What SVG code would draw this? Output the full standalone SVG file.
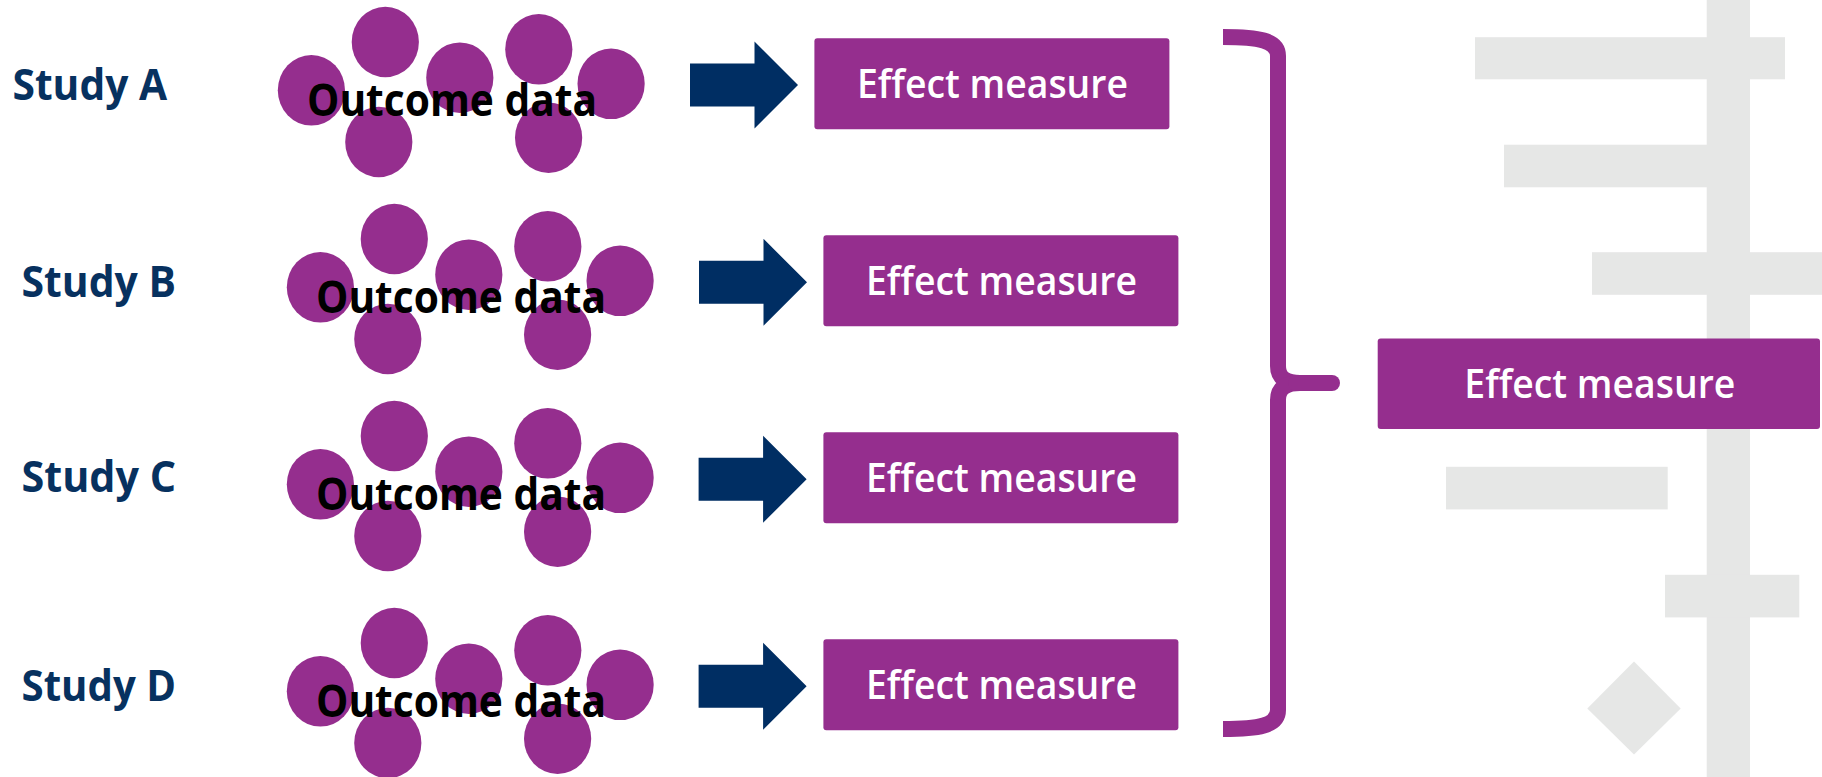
<svg xmlns="http://www.w3.org/2000/svg" width="1822" height="777" viewBox="0 0 1822 777">
<style>
.bg{fill:#e6e7e6}
.dot{fill:#952e8e}
.box{fill:#952e8e}
.study{font-family:"Open Sans","Noto Sans",sans-serif;font-weight:700;font-size:43px;fill:#07315f}
.outc{font-family:"Open Sans","Noto Sans",sans-serif;font-weight:700;font-size:45px;fill:#000}
.eff{font-family:"Open Sans","Noto Sans",sans-serif;font-weight:600;font-size:40px;fill:#fff}
.arrow{fill:#002e63}
.brace{fill:none;stroke:#952e8e;stroke-width:16;stroke-linejoin:round}
</style>
<defs>
<g id="dots">
<ellipse class="dot" cx="311.4" cy="90.3" rx="33.6" ry="35.3"/>
<ellipse class="dot" cx="385.3" cy="42" rx="33.6" ry="35.3"/>
<ellipse class="dot" cx="459.8" cy="77.7" rx="33.6" ry="35.3"/>
<ellipse class="dot" cx="378.8" cy="142" rx="33.6" ry="35.3"/>
<ellipse class="dot" cx="538.8" cy="49.3" rx="33.6" ry="35.3"/>
<ellipse class="dot" cx="611.1" cy="83.8" rx="33.6" ry="35.3"/>
<ellipse class="dot" cx="548.6" cy="137.7" rx="33.6" ry="35.3"/>
</g>
<polygon id="arr" points="690,63.5 754.5,63.5 754.5,41.5 798,85 754.5,128.5 754.5,106.5 690,106.5"/>
</defs>

<g id="background">
<rect class="bg" x="1706.7" y="0" width="43.3" height="777"/>
<rect class="bg" x="1475" y="37.2" width="310" height="42.1"/>
<rect class="bg" x="1504" y="144.7" width="210" height="42.6"/>
<rect class="bg" x="1592" y="252.2" width="230" height="42.6"/>
<rect class="bg" x="1446" y="466.8" width="221.7" height="42.6"/>
<rect class="bg" x="1665" y="574.8" width="134.3" height="42.6"/>
<polygon class="bg" points="1587.3,708.5 1634,661.5 1680.7,708.5 1634,754.6"/>
</g>

<g id="study-a"><text class="study" x="12.5" y="100" textLength="154.5" lengthAdjust="spacingAndGlyphs">Study A</text></g>
<g id="study-b" transform="translate(9,197)"><text class="study" x="12.5" y="100" textLength="154.5" lengthAdjust="spacingAndGlyphs">Study B</text></g>
<g id="study-c" transform="translate(9,394)"><text class="study" x="12.5" y="98" textLength="154.5" lengthAdjust="spacingAndGlyphs">Study C</text></g>
<g id="study-d" transform="translate(9,601)"><text class="study" x="12.5" y="100" textLength="154.5" lengthAdjust="spacingAndGlyphs">Study D</text></g>

<g id="outcome-a"><use href="#dots"/><text class="outc" x="307" y="115.5" textLength="290" lengthAdjust="spacingAndGlyphs">Outcome data</text></g>
<g id="outcome-b" transform="translate(9,197)"><use href="#dots"/><text class="outc" x="307" y="115.5" textLength="290" lengthAdjust="spacingAndGlyphs">Outcome data</text></g>
<g id="outcome-c" transform="translate(9,394)"><use href="#dots"/><text class="outc" x="307" y="115.5" textLength="290" lengthAdjust="spacingAndGlyphs">Outcome data</text></g>
<g id="outcome-d" transform="translate(9,601)"><use href="#dots"/><text class="outc" x="307" y="115.5" textLength="290" lengthAdjust="spacingAndGlyphs">Outcome data</text></g>

<g id="effect-a"><rect class="box" x="814.4" y="38.3" width="355" height="91" rx="3"/><text class="eff" x="857" y="98" textLength="271" lengthAdjust="spacingAndGlyphs">Effect measure</text></g>
<g id="effect-b" transform="translate(9,197)"><rect class="box" x="814.4" y="38.3" width="355" height="91" rx="3"/><text class="eff" x="857" y="98" textLength="271" lengthAdjust="spacingAndGlyphs">Effect measure</text></g>
<g id="effect-c" transform="translate(9,394)"><rect class="box" x="814.4" y="38.3" width="355" height="91" rx="3"/><text class="eff" x="857" y="98" textLength="271" lengthAdjust="spacingAndGlyphs">Effect measure</text></g>
<g id="effect-d" transform="translate(9,601)"><rect class="box" x="814.4" y="38.3" width="355" height="91" rx="3"/><text class="eff" x="857" y="98" textLength="271" lengthAdjust="spacingAndGlyphs">Effect measure</text></g>

<g id="effect-pooled"><rect class="box" x="1377.7" y="338.4" width="442.3" height="90.7" rx="3"/><text class="eff" x="1464.3" y="397.9" textLength="271" lengthAdjust="spacingAndGlyphs">Effect measure</text></g>

<g id="connectors">
<use class="arrow" href="#arr"/>
<use class="arrow" href="#arr" transform="translate(9,197.3)"/>
<use class="arrow" href="#arr" transform="translate(8.6,394.3)"/>
<use class="arrow" href="#arr" transform="translate(8.6,601.3)"/>
<path class="brace" d="M1223,37 C1258,37 1278,40 1278,56 L1278,366 C1278,378 1286,383 1300,383"/>
<path class="brace" d="M1223,729 C1258,729 1278,726 1278,710 L1278,400 C1278,388 1286,383 1300,383"/>
<path class="brace" d="M1296,383 L1332,383" stroke-linecap="round"/>
</g>
</svg>
